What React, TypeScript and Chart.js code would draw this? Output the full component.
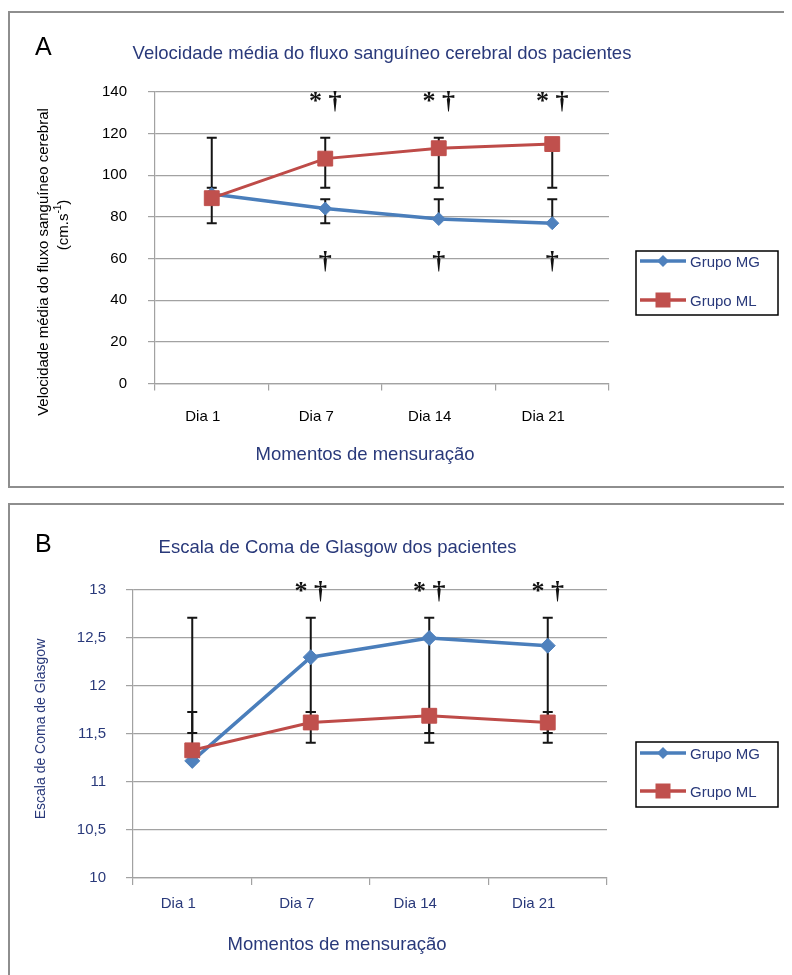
import React, { useEffect, useRef } from 'react';
import { Chart, registerables } from 'chart.js';

Chart.register(...registerables);

// ---------- shared ----------
const categories = ['Dia 1', 'Dia 7', 'Dia 14', 'Dia 21'];
const seriesNames = ['Grupo MG', 'Grupo ML'];
const xAxisTitle = 'Momentos de mensuração';

// ---------- panel A ----------
const titleA = 'Velocidade média do fluxo sanguíneo cerebral dos pacientes';
const yTitleA1 = 'Velocidade média do fluxo sanguíneo cerebral';
const yTitleA2 = ['(cm.s', '-1', ')'];
const velMG = [91, 84, 79, 77];
const velML = [89, 108, 113, 115];
const velMGLow = [77, 77, 79, 77];
const velMGHigh = [94, 88.5, 88.5, 88.5];
const velMLLow = [89, 94, 94, 94];
const velMLHigh = [118, 118, 118, 115];
const velMarksTop = ['', '* †', '* †', '* †'];
const velMarksBottom = ['', '†', '†', '†'];
const velMarkTopAt = 131.8;
const velMarkBottomAt = 55;

// ---------- panel B ----------
const titleB = 'Escala de Coma de Glasgow dos pacientes';
const yTitleB = 'Escala de Coma de Glasgow';
const gcsMG = [11.22, 12.3, 12.5, 12.42];
const gcsML = [11.33, 11.62, 11.69, 11.62];
const gcsMGLow = [11.51, 11.73, 11.51, 11.51];
const gcsMGHigh = [12.71, 12.71, 12.71, 12.71];
const gcsMLLow = [11.33, 11.41, 11.41, 11.41];
const gcsMLHigh = [11.73, 11.73, 11.69, 11.73];
const gcsMarksTop = ['', '* †', '* †', '* †'];
const gcsMarkTopAt = 12.906;

const NAVY = '#29397a';
const BLUE = '#4a7ebb';
const BLUE_FILL = '#4f81bd';
const RED = '#be4b48';
const RED_FILL = '#c0504d';
const GRID = '#a2a2a2';
const FONT = '"Liberation Sans", Arial, Helvetica, sans-serif';
const SERIF = '"Liberation Serif", "Times New Roman", serif';

function diamond(ctx: CanvasRenderingContext2D, x: number, y: number, r: number, fill: string) {
  ctx.beginPath();
  ctx.moveTo(x - r, y);
  ctx.lineTo(x, y - r);
  ctx.lineTo(x + r, y);
  ctx.lineTo(x, y + r);
  ctx.closePath();
  ctx.fillStyle = fill;
  ctx.fill();
}
function square(ctx: CanvasRenderingContext2D, x: number, y: number, h: number, fill: string) {
  ctx.fillStyle = fill;
  ctx.fillRect(x - h, y - h, 2 * h, 2 * h);
}

type Spec = {
  width: number;
  height: number;
  area: { left: number; right: number; top: number; bottom: number };
  yMin: number;
  yMax: number;
  yStep: number;
  yFormat: (v: number) => string;
  tickColor: string;
  yPad: number;
  xPad: number;
  labelOffset: number;
  mg: number[];
  ml: number[];
  mgRadius: number;
  bars: { low: number[]; high: number[] }[];
  marks: { texts: string[]; at: number }[];
  letter: string;
  letterPos: [number, number];
  title: string;
  titlePos: [number, number];
  xTitlePos: [number, number];
  drawYTitle: (ctx: CanvasRenderingContext2D) => void;
  legend: { x: number; y: number; w: number; h: number; rows: number[] };
};

function makeChart(canvas: HTMLCanvasElement, s: Spec) {
  const barsPlugin = {
    id: 'errBars',
    beforeDatasetsDraw(chart: any) {
      const { ctx } = chart;
      const x = chart.scales.x;
      const y = chart.scales.y;
      ctx.save();
      ctx.strokeStyle = '#151515';
      ctx.lineWidth = 2;
      const cap = 5;
      for (const b of s.bars) {
        b.low.forEach((lo, i) => {
          const px = x.getPixelForValue(i);
          const y1 = y.getPixelForValue(lo);
          const y2 = y.getPixelForValue(b.high[i]);
          ctx.beginPath();
          ctx.moveTo(px, y1);
          ctx.lineTo(px, y2);
          ctx.moveTo(px - cap, y1);
          ctx.lineTo(px + cap, y1);
          ctx.moveTo(px - cap, y2);
          ctx.lineTo(px + cap, y2);
          ctx.stroke();
        });
      }
      ctx.restore();
    },
  };
  const marksPlugin = {
    id: 'sigMarks',
    afterDatasetsDraw(chart: any) {
      const { ctx } = chart;
      const x = chart.scales.x;
      const y = chart.scales.y;
      ctx.save();
      ctx.fillStyle = '#111';
      ctx.font = `bold 26px ${SERIF}`;
      ctx.textAlign = 'center';
      ctx.textBaseline = 'alphabetic';
      for (const m of s.marks) {
        m.texts.forEach((t, i) => {
          if (!t) return;
          ctx.fillText(t, x.getPixelForValue(i), y.getPixelForValue(m.at));
        });
      }
      ctx.restore();
    },
  };
  const decorPlugin = {
    id: 'decor',
    afterDraw(chart: any) {
      const { ctx } = chart;
      ctx.save();
      ctx.fillStyle = '#000';
      ctx.font = `25px ${FONT}`;
      ctx.textAlign = 'left';
      ctx.textBaseline = 'middle';
      ctx.fillText(s.letter, s.letterPos[0], s.letterPos[1]);
      ctx.fillStyle = NAVY;
      ctx.font = `18.5px ${FONT}`;
      ctx.textAlign = 'center';
      ctx.fillText(s.title, s.titlePos[0], s.titlePos[1]);
      ctx.fillText(xAxisTitle, s.xTitlePos[0], s.xTitlePos[1]);
      s.drawYTitle(ctx);
      const L = s.legend;
      ctx.strokeStyle = '#000';
      ctx.lineWidth = 1.5;
      ctx.strokeRect(L.x, L.y, L.w, L.h);
      const colors = [BLUE, RED];
      L.rows.forEach((ry, i) => {
        ctx.strokeStyle = colors[i];
        ctx.lineWidth = 3.5;
        ctx.beginPath();
        ctx.moveTo(L.x + 4, ry);
        ctx.lineTo(L.x + 50, ry);
        ctx.stroke();
        if (i === 0) diamond(ctx, L.x + 27, ry, 6, BLUE_FILL);
        else square(ctx, L.x + 27, ry, 7.5, RED_FILL);
        ctx.fillStyle = NAVY;
        ctx.font = `15px ${FONT}`;
        ctx.textAlign = 'left';
        ctx.textBaseline = 'middle';
        ctx.fillText(seriesNames[i], L.x + 54, ry + 2);
      });
      ctx.restore();
    },
  };

  return new Chart(canvas, {
    type: 'line',
    data: {
      labels: categories,
      datasets: [
        {
          label: seriesNames[0],
          data: s.mg,
          order: 2,
          borderColor: BLUE,
          backgroundColor: BLUE_FILL,
          borderWidth: 3.5,
          pointStyle: 'rectRot',
          pointRadius: s.mgRadius,
          pointBackgroundColor: BLUE_FILL,
          pointBorderColor: BLUE_FILL,
          pointBorderWidth: 1,
          tension: 0,
        },
        {
          label: seriesNames[1],
          data: s.ml,
          order: 1,
          borderColor: RED,
          backgroundColor: RED_FILL,
          borderWidth: 3,
          pointStyle: 'rect',
          pointRadius: 10.5,
          pointBackgroundColor: RED_FILL,
          pointBorderColor: RED_FILL,
          pointBorderWidth: 1,
          tension: 0,
        },
      ],
    },
    options: {
      responsive: false,
      animation: false,
      events: [],
      layout: {
        padding: { left: 0, top: s.area.top, right: s.width - s.area.right, bottom: 0 },
      },
      plugins: {
        legend: { display: false },
        title: { display: false },
        tooltip: { enabled: false },
      },
      scales: {
        x: {
          type: 'category',
          offset: true,
          afterFit: (sc: any) => {
            sc.height = s.height - s.area.bottom;
          },
          grid: {
            offset: true,
            drawOnChartArea: false,
            drawTicks: true,
            tickLength: 7,
            color: GRID,
            lineWidth: 1.2,
          },
          border: { display: true, color: GRID, width: 1.2 },
          ticks: {
            color: s.tickColor,
            font: { family: FONT, size: 15 },
            padding: s.xPad,
            labelOffset: s.labelOffset,
            maxRotation: 0,
            autoSkip: false,
          },
        },
        y: {
          min: s.yMin,
          max: s.yMax,
          afterFit: (sc: any) => {
            sc.width = s.area.left;
          },
          grid: {
            color: GRID,
            lineWidth: 1.2,
            drawTicks: true,
            tickLength: 7,
          },
          border: { display: true, color: GRID, width: 1.2 },
          ticks: {
            stepSize: s.yStep,
            color: s.tickColor,
            font: { family: FONT, size: 15 },
            padding: s.yPad,
            callback: (v: any) => s.yFormat(Number(v)),
          },
        },
      },
    },
    plugins: [barsPlugin, marksPlugin, decorPlugin],
  } as any);
}

const specA: Spec = {
  width: 784,
  height: 477,
  area: { left: 147, right: 601, top: 81, bottom: 372.5 },
  yMin: 0,
  yMax: 140,
  yStep: 20,
  yFormat: (v) => String(v),
  tickColor: '#000',
  yPad: 21,
  xPad: 17,
  labelOffset: -9,
  mg: velMG,
  ml: velML,
  mgRadius: 6.5,
  bars: [
    { low: velMGLow, high: velMGHigh },
    { low: velMLLow, high: velMLHigh },
  ],
  marks: [
    { texts: velMarksTop, at: velMarkTopAt },
    { texts: velMarksBottom, at: velMarkBottomAt },
  ],
  letter: 'A',
  letterPos: [27, 37],
  title: titleA,
  titlePos: [374, 43],
  xTitlePos: [357, 444],
  drawYTitle: (ctx) => {
    ctx.save();
    ctx.fillStyle = '#000';
    ctx.textBaseline = 'middle';
    ctx.textAlign = 'center';
    ctx.font = `15px ${FONT}`;
    ctx.translate(36, 251);
    ctx.rotate(-Math.PI / 2);
    ctx.fillText(yTitleA1, 0, 0);
    ctx.restore();
    ctx.save();
    ctx.fillStyle = '#000';
    ctx.textBaseline = 'middle';
    ctx.textAlign = 'left';
    ctx.translate(56, 214);
    ctx.rotate(-Math.PI / 2);
    ctx.font = `15px ${FONT}`;
    const w0 = ctx.measureText(yTitleA2[0]).width;
    const w2 = ctx.measureText(yTitleA2[2]).width;
    ctx.font = `10px ${FONT}`;
    const w1 = ctx.measureText(yTitleA2[1]).width;
    let cx = -(w0 + w1 + w2) / 2;
    ctx.font = `15px ${FONT}`;
    ctx.fillText(yTitleA2[0], cx, 0);
    cx += w0;
    ctx.font = `10px ${FONT}`;
    ctx.fillText(yTitleA2[1], cx, -6);
    cx += w1;
    ctx.font = `15px ${FONT}`;
    ctx.fillText(yTitleA2[2], cx, 0);
    ctx.restore();
  },
  legend: { x: 628, y: 240, w: 142, h: 64, rows: [250, 289] },
};

const specB: Spec = {
  width: 784,
  height: 472,
  area: { left: 125, right: 599, top: 87, bottom: 375 },
  yMin: 10,
  yMax: 13,
  yStep: 0.5,
  yFormat: (v) => String(Math.round(v * 10) / 10).replace('.', ','),
  tickColor: NAVY,
  yPad: 20,
  xPad: 10,
  labelOffset: -14,
  mg: gcsMG,
  ml: gcsML,
  mgRadius: 7.5,
  bars: [
    { low: gcsMGLow, high: gcsMGHigh },
    { low: gcsMLLow, high: gcsMLHigh },
  ],
  marks: [{ texts: gcsMarksTop, at: gcsMarkTopAt }],
  letter: 'B',
  letterPos: [27, 42],
  title: titleB,
  titlePos: [329.5, 45],
  xTitlePos: [329, 441.5],
  drawYTitle: (ctx) => {
    ctx.save();
    ctx.fillStyle = NAVY;
    ctx.textBaseline = 'middle';
    ctx.textAlign = 'center';
    ctx.font = `14px ${FONT}`;
    ctx.translate(33, 226);
    ctx.rotate(-Math.PI / 2);
    ctx.fillText(yTitleB, 0, 0);
    ctx.restore();
  },
  legend: { x: 628, y: 239, w: 142, h: 65, rows: [250, 288] },
};

function Panel({ spec, top }: { spec: Spec; top: number }) {
  const ref = useRef<HTMLCanvasElement>(null);
  useEffect(() => {
    if (!ref.current) return;
    const c = makeChart(ref.current, spec);
    return () => c.destroy();
  }, [spec]);
  return (
    <div style={{ position: 'absolute', left: 0, top, width: spec.width, height: spec.height }}>
      <canvas ref={ref} width={spec.width} height={spec.height} style={{ display: 'block' }} />
    </div>
  );
}

export default function App() {
  return (
    <div style={{ position: 'relative', width: 784, height: 967, overflow: 'hidden', background: '#fff' }}>
      <div
        style={{
          position: 'absolute',
          left: 0,
          top: 3,
          width: 800,
          height: 477,
          border: '2px solid #8e8e8e',
          boxSizing: 'border-box',
        }}
      />
      <div
        style={{
          position: 'absolute',
          left: 0,
          top: 495,
          width: 800,
          height: 540,
          border: '2px solid #8e8e8e',
          boxSizing: 'border-box',
        }}
      />
      <Panel spec={specA} top={3} />
      <Panel spec={specB} top={495} />
    </div>
  );
}
